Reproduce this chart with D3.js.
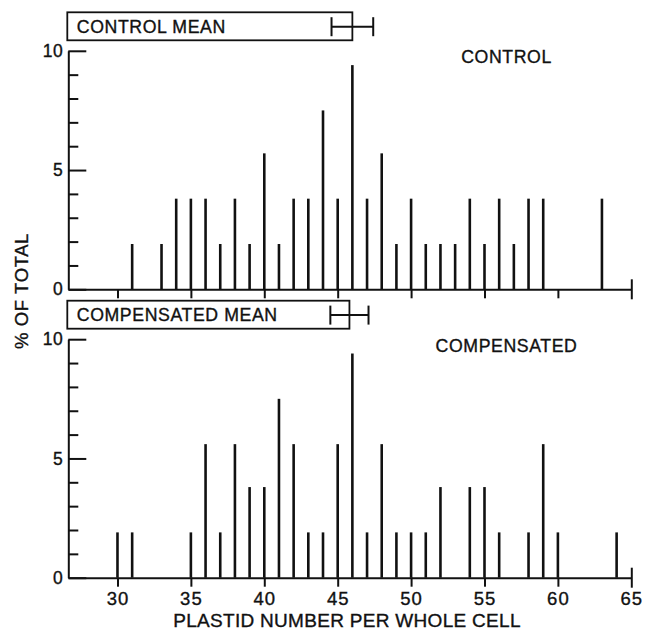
<!DOCTYPE html>
<html>
    <head>
        <meta charset="utf-8">
        <script src="https://d3js.org/d3.v7.min.js"></script>
        <style>
            body { margin: 0; background: #fff; }
            text { font-family: "Liberation Sans", Arial, sans-serif; fill: #111; stroke: #111; stroke-width: 0.35px; }
        </style>
    </head>
    <body>
        <div id="chartContainer"></div>
        <script type="text/javascript">

        // Plastid number per cell (x) and % of total (y)
        var controlPlastids = [31, 33, 34, 35, 36, 37, 38, 39, 40, 41, 42, 43, 44, 45, 46,
                               47, 48, 49, 50, 51, 52, 53, 54, 55, 56, 57, 58, 59, 63];
        var controlPct      = [1.9, 1.9, 3.8, 3.8, 3.8, 1.9, 3.8, 1.9, 5.7, 1.9, 3.8, 3.8, 7.5, 3.8, 9.4,
                               3.8, 5.7, 1.9, 3.8, 1.9, 1.9, 1.9, 3.8, 1.9, 3.8, 1.9, 3.8, 3.8, 3.8];

        var compPlastids = [30, 31, 35, 36, 37, 38, 39, 40, 41, 42, 43, 44, 45, 46,
                            47, 48, 49, 50, 51, 52, 54, 55, 56, 58, 59, 60, 64];
        var compPct      = [1.9, 1.9, 1.9, 5.6, 1.9, 5.6, 3.8, 3.8, 7.5, 5.6, 1.9, 1.9, 5.6, 9.4,
                            1.9, 5.6, 1.9, 1.9, 1.9, 3.8, 3.8, 3.8, 1.9, 1.9, 5.6, 1.9, 1.9];

        // mean and error bar half-width for each group
        var controlMean = [46.0, 1.42];
        var compMean    = [45.8, 1.3];

        var xTicks = [30, 35, 40, 45, 50, 55, 60, 65];
        var yMajor = [0, 5, 10];
        var yMinor = [1, 2, 3, 4, 6, 7, 8, 9];

        var width = 646, height = 632;
        var svg = d3.select("#chartContainer").append("svg")
            .attr("width", width)
            .attr("height", height);

        var x = d3.scaleLinear().domain([26.65, 65]).range([68.3, 631.3]);

        function drawPanel(plastids, pct, mean, label, meanLabel, y0, showLabels) {
            var y = d3.scaleLinear().domain([0, 10]).range([y0, y0 - 238.5]);
            var g = svg.append("g");

            // x axis
            var xAxis = d3.axisBottom(x)
                .tickValues(xTicks)
                .tickSize(9)
                .tickSizeOuter(0)
                .tickPadding(5)
                .tickFormat(showLabels ? d3.format("d") : "");
            var gx = g.append("g")
                .attr("transform", "translate(0," + y(0) + ")")
                .call(xAxis);
            gx.selectAll("path, line").attr("stroke", "#111").attr("stroke-width", 2);
            gx.selectAll("text")
                .style("font-size", "18.5px")
                .style("letter-spacing", "1px")
                .attr("fill", "#111");
            // the end tick at 65 goes through the axis
            gx.selectAll(".tick").filter(function (d) { return d === 65; })
                .select("line").attr("y1", -10).attr("y2", 10);

            // y axis: major ticks with labels, minor ticks without
            var gy = g.append("g").attr("transform", "translate(" + x.range()[0] + ",0)");
            gy.call(d3.axisLeft(y).tickValues(yMajor).tickSize(-18).tickSizeOuter(0).tickPadding(5));
            gy.append("g").call(d3.axisLeft(y).tickValues(yMinor).tickSize(-10).tickSizeOuter(0).tickFormat(""))
                .select(".domain").remove();
            gy.selectAll("path, line").attr("stroke", "#111").attr("stroke-width", 2);
            gy.selectAll("text")
                .style("font-size", "17.5px")
                .style("letter-spacing", "0.5px")
                .attr("fill", "#111");

            // bars as thin vertical lines
            g.selectAll(".bar")
                .data(d3.zip(plastids, pct))
                .enter().append("line")
                .attr("class", "bar")
                .attr("x1", function (d) { return x(d[0]); })
                .attr("x2", function (d) { return x(d[0]); })
                .attr("y1", y(0))
                .attr("y2", function (d) { return y(d[1]); })
                .attr("stroke", "#111")
                .attr("stroke-width", 2.6);

            // panel label
            g.append("text")
                .attr("x", x(56.5))
                .attr("y", y(10) + 12.3)
                .attr("text-anchor", "middle")
                .style("font-size", "17.7px")
                .style("letter-spacing", "0.6px")
                .text(label);

            // mean box and error bar
            var boxTop = y(10) - 38.5, boxH = 28;
            g.append("rect")
                .attr("x", x.range()[0] - 1)
                .attr("y", boxTop)
                .attr("width", x(mean[0]) - x.range()[0] + 1)
                .attr("height", boxH)
                .attr("fill", "none")
                .attr("stroke", "#111")
                .attr("stroke-width", 1.8);
            g.append("text")
                .attr("x", x.range()[0] + 8.5)
                .attr("y", boxTop + 20.6)
                .style("font-size", "17.7px")
                .style("letter-spacing", "0.6px")
                .text(meanLabel);

            var ey = boxTop + boxH / 2 + 0.4;
            var lo = x(mean[0] - mean[1]), hi = x(mean[0] + mean[1]);
            g.append("line")
                .attr("x1", lo).attr("x2", hi)
                .attr("y1", ey).attr("y2", ey)
                .attr("stroke", "#111").attr("stroke-width", 2);
            [lo, hi].forEach(function (cx) {
                g.append("line")
                    .attr("x1", cx).attr("x2", cx)
                    .attr("y1", ey - 9.5).attr("y2", ey + 9.5)
                    .attr("stroke", "#111").attr("stroke-width", 2);
            });
        }

        drawPanel(controlPlastids, controlPct, controlMean, "CONTROL", "CONTROL MEAN", 289.3, false);
        drawPanel(compPlastids, compPct, compMean, "COMPENSATED", "COMPENSATED MEAN", 577.7, true);

        // axis titles
        svg.append("text")
            .attr("transform", "translate(28,291) rotate(-90)")
            .attr("text-anchor", "middle")
            .style("font-size", "18.5px")
            .style("letter-spacing", "0.6px")
            .text("% OF TOTAL");

        svg.append("text")
            .attr("x", 347)
            .attr("y", 626.7)
            .attr("text-anchor", "middle")
            .style("font-size", "19px")
            .style("letter-spacing", "0.3px")
            .text("PLASTID NUMBER PER WHOLE CELL");
        </script>
    </body>
</html>
